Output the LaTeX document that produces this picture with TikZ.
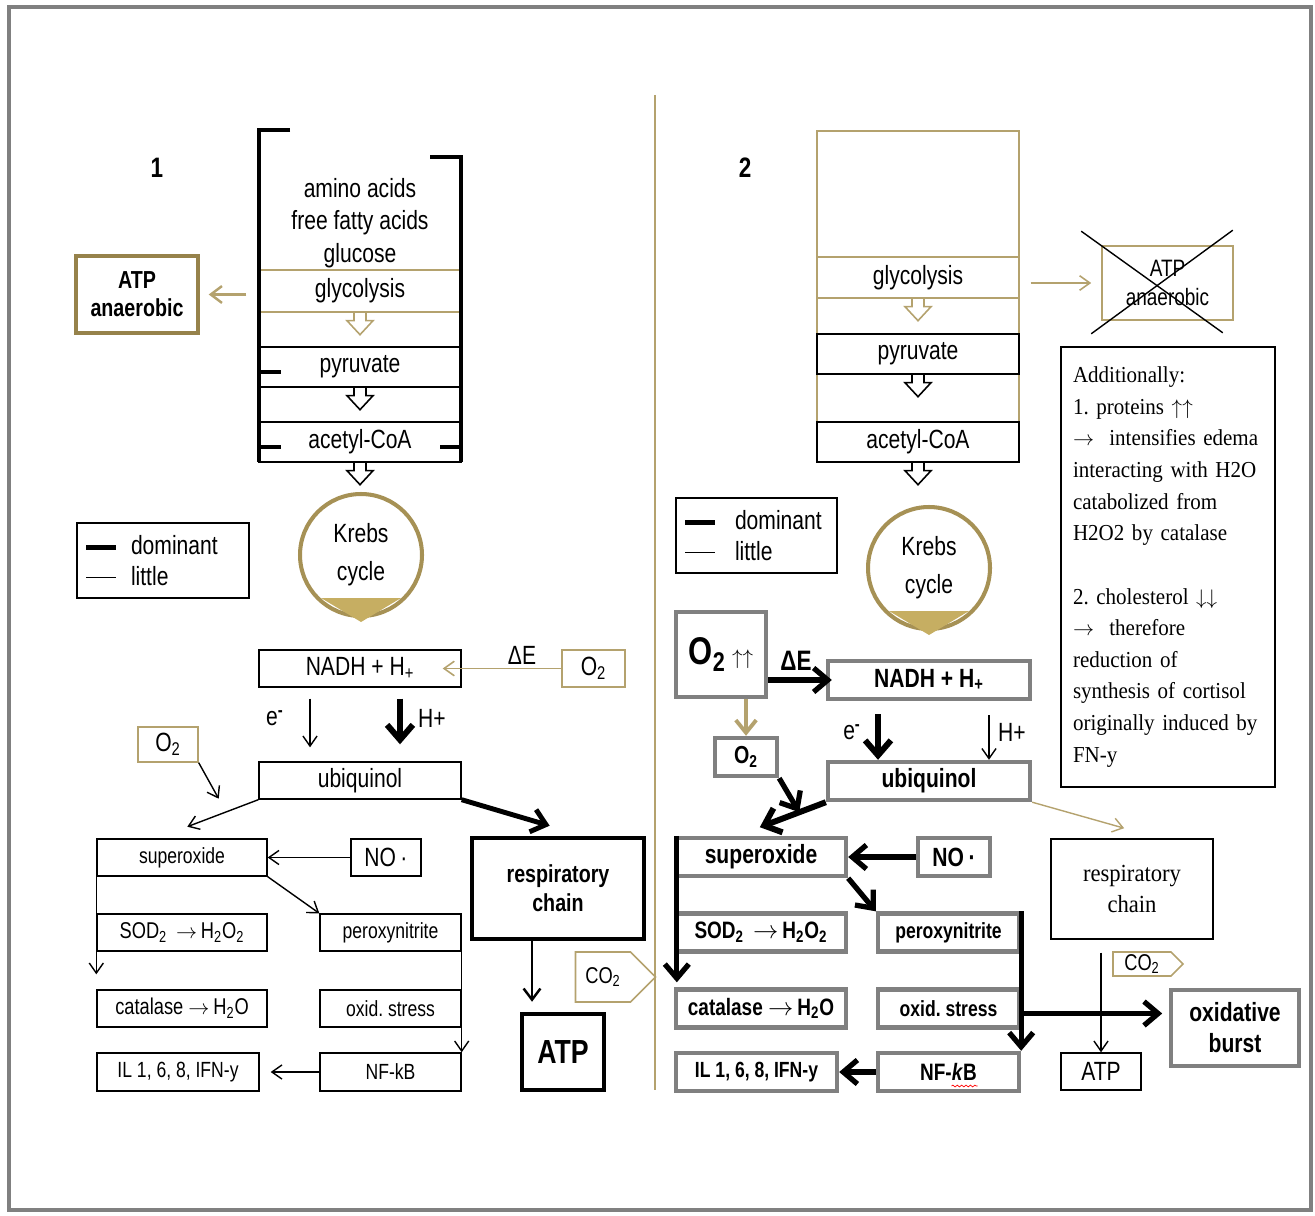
\documentclass[tikz,border=0pt]{standalone}
\usepackage{fontspec}
\setmainfont{Liberation Sans}[FakeStretch=0.8]
\newfontfamily\serifnarrow{Liberation Serif}[FakeStretch=0.92]
\usetikzlibrary{arrows.meta,shapes.symbols,decorations.pathmorphing}
\definecolor{linegold}{RGB}{180,162,110}
\definecolor{boxgold}{RGB}{150,130,75}
\definecolor{krebsgold}{RGB}{166,145,85}
\definecolor{trigold}{RGB}{198,174,98}
\definecolor{boxgray}{RGB}{128,128,128}
\newcommand{\rarr}{$\rightarrow$}
\tikzset{
  bx/.style={draw, inner sep=0pt, line width=0.8pt, minimum height=0.74cm, font=\fontsize{15}{18}\selectfont},
  sbx/.style={bx, font=\fontsize{12.5}{15}\selectfont},
  gbx/.style={draw=boxgray, line width=2.5pt, inner sep=0pt, minimum height=0.76cm, font=\bfseries\fontsize{15}{18}\selectfont},
  goldbx/.style={bx, draw=linegold},
  lbl/.style={inner sep=0pt, font=\fontsize{15}{18}\selectfont},
  weak/.style={line width=0.8pt},
  strong/.style={line width=3pt},
  krebs/.style={circle, draw=krebsgold, line width=2.3pt, minimum size=2.44cm, inner sep=0pt, align=center, font=\fontsize{15}{21.5}\selectfont},
  legend/.style={draw, line width=0.8pt, minimum height=1.5cm, inner xsep=0.18cm, align=left, font=\fontsize{15}{17.5}\selectfont},
  co2/.style={signal, signal to=east, draw=linegold, line width=0.9pt, inner sep=0pt, font=\fontsize{13}{15}\selectfont},
  hollow/.pic={\draw (-6,0) -- (-6,8) -- (-13,8) -- (0,22) -- (13,8) -- (6,8) -- (6,0);}
}
\begin{document}
\frenchspacing
\begin{tikzpicture}[x=0.02cm, y=-0.02cm, >={Straight Barb[length=4.9pt 1.05, width=6pt 2.55]}]
\useasboundingbox (0,0) rectangle (1315,1216);
\draw[boxgray, line width=2.4pt] (9,7) rectangle (1311,1210);
\draw[linegold, line width=1.1pt] (655,95) -- (655,1090);

% panel 1
\node[lbl, font=\bfseries\fontsize{16}{18}\selectfont] (num1) at (157,168) {1};
\node[goldbx, minimum width=4.04cm, minimum height=0.84cm] (glyc1) at (360,291) {glycolysis};
\node[lbl, align=center, font=\fontsize{15}{18.4}\selectfont] (fuel1) at (360,223) {amino acids\\free fatty acids\\glucose};
\node[bx, minimum width=4.04cm, minimum height=0.8cm] (pyr1) at (360,367) {pyruvate};
\node[bx, minimum width=4.04cm, minimum height=0.8cm] (acet1) at (360,442) {acetyl-CoA};
\pic[linegold, line width=0.9pt] at (glyc1.south) {hollow};
\pic[line width=0.9pt] at (pyr1.south) {hollow};
\pic[line width=0.9pt] at (acet1.south) {hollow};
% brackets
\draw[line width=2.3pt] (290,130) -- (259,130) -- (259,462);
\draw[line width=2.3pt] (430,157) -- (461,157) -- (461,462);
\draw[line width=2.3pt] (259,372) -- (281,372) (259,447) -- (281,447) (440,447) -- (461,447);

\node[draw=boxgold, line width=2pt, minimum width=2.44cm, minimum height=1.54cm, align=center, font=\bfseries\fontsize{14}{16}\selectfont] (atpan1) at (137,294.5) {ATP\\anaerobic};
\draw[->, linegold, line width=1.4pt, shorten <=0.24cm, shorten >=0.18cm] (glyc1.west |- atpan1.east) -- (atpan1.east);

\node[legend, text width=3.08cm] (leg1) at (163,560.5) {\rule[0.3ex]{0.6cm}{3.2pt}\hspace{0.3cm}dominant\\\rule[0.5ex]{0.6cm}{0.7pt}\hspace{0.3cm}little};

\node[krebs] (krebs1) at (361,555) {Krebs\\cycle};
\fill[trigold] ([shift={(-40,43)}]krebs1.center) -- ([shift={(40,43)}]krebs1.center) -- ([shift={(0,67)}]krebs1.center) -- cycle;

\node[bx, minimum width=4.04cm] (nadh1) at (360,668.5) {NADH + H\textsubscript{+}};
\node[goldbx, minimum width=1.26cm] (o2a) at (593.5,668.5) {O\textsubscript{2}};
\node[lbl] (de1) at (522,655) {ΔE};
\draw[->, linegold, line width=0.9pt, shorten >=-0.38cm] (o2a.west) -- (nadh1.east);

\node[bx, minimum width=4.04cm] (ubi1) at (360,780.5) {ubiquinol};
\draw[->, weak, shorten <=0.22cm, shorten >=0.28cm] ([xshift=-1cm]nadh1.south) -- ([xshift=-1cm]ubi1.north);
\draw[->, line width=3.4pt, shorten <=0.22cm, shorten >=0.34cm] ([xshift=0.8cm]nadh1.south) -- ([xshift=0.8cm]ubi1.north);
\node[lbl] (el1) at (275,718) {e\textsuperscript{\bfseries -}};
\node[lbl] (hp1) at (432,718) {H+};

\node[goldbx, minimum width=1.2cm, minimum height=0.7cm] (o2b) at (168,744.5) {O\textsubscript{2}};
\draw[->, weak] (o2b.south east) -- ++(20,36);
\draw[->, weak] (ubi1.south west) -- ++(-71,27);

\node[sbx, minimum width=3.4cm] (sup1) at (182,857.5) {superoxide};
\node[bx, minimum width=1.4cm] (no1) at (386,857.5) {NO\,·};
\node[sbx, minimum width=3.4cm, font=\fontsize{13}{15}\selectfont] (sod1) at (182,932.5) {SOD\textsubscript{2} \,\rarr\,H\textsubscript{2}O\textsubscript{2}};
\node[sbx, minimum width=2.82cm] (per1) at (390.5,932.5) {peroxynitrite};
\node[sbx, minimum width=3.4cm, font=\fontsize{13}{15}\selectfont] (cat1) at (182,1008.5) {catalase \rarr\,H\textsubscript{2}O};
\node[sbx, minimum width=2.82cm] (ox1) at (390.5,1008.5) {oxid. stress};
\node[sbx, minimum width=3.24cm, minimum height=0.76cm] (il1) at (178,1072) {IL 1, 6, 8, IFN-y};
\node[sbx, minimum width=2.82cm, minimum height=0.76cm] (nf1) at (390.5,1072) {NF-kB};
\draw[->, weak] (no1.west) -- (sup1.east);
\draw[->, weak] (sup1.south east) -- (per1.north west);
\draw[->, weak] (sup1.south west) -- ([yshift=0.3cm]cat1.north west);
\draw[->, weak] (per1.south east) -- (nf1.north east);
\draw[->, weak, shorten >=0.22cm] (nf1.west) -- (il1.east);

\node[draw, line width=2pt, minimum width=3.44cm, minimum height=2.02cm, align=center, font=\bfseries\fontsize{14}{16.5}\selectfont] (resp1) at (558,888.5) {respiratory\\chain};
\node[draw, line width=2pt, minimum width=1.64cm, minimum height=1.52cm, font=\bfseries\fontsize{19}{20}\selectfont] (atp1) at (563,1052) {ATP};
\draw[->, line width=2.8pt] (ubi1.south east) -- ++(88,26);
\draw[->, line width=1.4pt] ([xshift=-0.52cm]resp1.south) -- ++(0,61);
\node[co2, minimum width=1.6cm, minimum height=1cm] (co2a) at (603,977) {CO\textsubscript{2}};

% panel 2
\node[lbl, font=\bfseries\fontsize{16}{18}\selectfont] (num2) at (745,168) {2};
\draw[linegold, line width=0.9pt] (817,131) rectangle (1019,462);
\node[goldbx, minimum width=4.04cm, minimum height=0.82cm] (glyc2) at (918,277.5) {glycolysis};
\node[bx, minimum width=4.04cm, minimum height=0.8cm] (pyr2) at (918,354) {pyruvate};
\node[bx, minimum width=4.04cm, minimum height=0.8cm] (acet2) at (918,442) {acetyl-CoA};
\pic[linegold, line width=0.9pt] at (glyc2.south) {hollow};
\pic[line width=0.9pt] at (pyr2.south) {hollow};
\pic[line width=0.9pt] at (acet2.south) {hollow};

\node[draw=linegold, line width=0.9pt, minimum width=2.62cm, minimum height=1.48cm, align=center, font=\fontsize{13.5}{16.4}\selectfont] (atpan2) at (1167.5,283) {ATP\\anaerobic};
\draw[->, linegold, line width=0.9pt, shorten <=0.22cm, shorten >=0.2cm] (glyc2.east |- atpan2.west) -- (atpan2.west);
\draw[weak] ([shift={(-20,-14)}]atpan2.north west) -- ([shift={(-11,12)}]atpan2.south east);
\draw[weak] ([shift={(-1,-15)}]atpan2.north east) -- ([shift={(-10,13)}]atpan2.south west);

\node[draw, line width=0.8pt, minimum height=8.8cm, text width=3.8cm, inner xsep=0.24cm, align=left, font=\serifnarrow\fontsize{13}{18}\selectfont] (extra) at (1168,567) {Additionally:\\1. proteins $\uparrow\uparrow$\\\rarr\ \ intensifies edema\\interacting with H2O\\catabolized from\\H2O2 by catalase\\[18pt]2. cholesterol $\downarrow\downarrow$\\\rarr\ \ therefore\\reduction of\\synthesis of cortisol\\originally induced by\\FN-y};

\node[legend, text width=2.86cm, font=\fontsize{15}{17.5}\selectfont] (leg2) at (756.5,535.5) {\rule[0.3ex]{0.6cm}{3.2pt}\hspace{0.4cm}dominant\\\rule[0.5ex]{0.6cm}{0.7pt}\hspace{0.4cm}little};

\node[krebs] (krebs2) at (929,568) {Krebs\\cycle};
\fill[trigold] ([shift={(-40,43)}]krebs2.center) -- ([shift={(40,43)}]krebs2.center) -- ([shift={(0,67)}]krebs2.center) -- cycle;

\node[draw=boxgray, line width=2.5pt, minimum width=1.8cm, minimum height=1.7cm, inner sep=0pt] (o2big) at (721,654.5) {\fontsize{22}{24}\selectfont\bfseries O\textsubscript{2}\,\fontsize{13}{14}\selectfont\mdseries $\uparrow\uparrow$};
\node[gbx, minimum width=4.04cm] (nadh2) at (929,680) {NADH + H\textsubscript{+}};
\node[lbl, font=\bfseries\fontsize{16}{18}\selectfont] (de2) at (796,661) {ΔE};
\draw[->, strong, shorten >=-0.12cm] (o2big.east |- nadh2.west) -- (nadh2.west);

\node[gbx, minimum width=1.24cm, font=\bfseries\fontsize{14}{16}\selectfont] (o2c) at (746,757) {O\textsubscript{2}};
\draw[->, linegold, line width=2.2pt] (o2big.south -| o2c.north) -- (o2c.north);
\draw[->, strong] (o2c.south east) -- ++(20,34);

\node[gbx, minimum width=4.04cm] (ubi2) at (929,781) {ubiquinol};
\draw[->, line width=3.4pt, shorten <=0.26cm] ([xshift=-1.02cm]nadh2.south) -- ([xshift=-1.02cm]ubi2.north);
\draw[->, weak, shorten <=0.28cm] ([xshift=1.2cm]nadh2.south) -- ([xshift=1.2cm]ubi2.north);
\node[lbl] (el2) at (852,732) {e\textsuperscript{\bfseries -}};
\node[lbl] (hp2) at (1012,732) {H+};
\draw[->, line width=3.4pt] (ubi2.south west) -- ++(-66,25);
\draw[->, linegold, weak] (ubi2.south east) -- ++(92,26);

\node[gbx, minimum width=3.4cm] (sup2) at (761,857) {superoxide};
\node[gbx, minimum width=1.44cm] (no2) at (954,857) {NO\,·};
\node[gbx, minimum width=3.4cm, font=\bfseries\fontsize{13.5}{16}\selectfont] (sod2) at (761,932.5) {SOD\textsubscript{2} \,\rarr\,H\textsubscript{2}O\textsubscript{2}};
\node[gbx, minimum width=2.82cm, font=\bfseries\fontsize{12.5}{15}\selectfont] (per2) at (948.5,932.5) {peroxynitrite};
\node[gbx, minimum width=3.4cm, font=\bfseries\fontsize{13.5}{16}\selectfont] (cat2) at (761,1008.5) {catalase \rarr\,H\textsubscript{2}O};
\node[gbx, minimum width=2.82cm, font=\bfseries\fontsize{12.5}{15}\selectfont] (ox2) at (948.5,1008.5) {oxid. stress};
\node[gbx, minimum width=3.22cm, font=\bfseries\fontsize{12.5}{15}\selectfont] (il2) at (756.5,1072) {IL 1, 6, 8, IFN-y};
\node[gbx, minimum width=2.82cm, font=\bfseries\fontsize{13.5}{16}\selectfont] (nf2) at (948.5,1072) {NF-\textit{k}B};
\draw[red, line width=0.4pt, decorate, decoration={snake, amplitude=0.5pt, segment length=2.5pt}] ([shift={(3,14)}]nf2.center) -- ++(26,0);

\draw[->, strong] (no2.west) -- (sup2.east);
\draw[->, strong] (sup2.south east) -- (per2.north west);
\draw[->, strong] ([xshift=0.06cm]sup2.north west) -- ([xshift=0.06cm, yshift=0.1cm]cat2.north west);
\draw[->, strong] (per2.north east) -- (nf2.north east);
\draw[->, strong] (nf2.west) -- (il2.east);

\node[draw, line width=0.8pt, minimum width=3.24cm, minimum height=2cm, align=center, font=\serifnarrow\fontsize{14}{18}\selectfont] (resp2) at (1132,889) {respiratory\\chain};
\node[bx, minimum width=1.6cm] (atp2) at (1101,1071.5) {ATP};
\node[gbx, minimum width=2.56cm, minimum height=1.52cm, align=center, font=\bfseries\fontsize{15}{17.6}\selectfont] (burst) at (1235,1028) {oxidative\\burst};
\node[co2, minimum width=1.4cm, minimum height=0.48cm] (co2b) at (1142,964) {CO\textsubscript{2}};
\draw[->, weak, shorten <=0.26cm] (atp2.north |- resp2.south) -- (atp2.north);
\draw[->, strong] ([yshift=-0.1cm]ox2.east) -- ++(141,0);
\end{tikzpicture}
\end{document}
